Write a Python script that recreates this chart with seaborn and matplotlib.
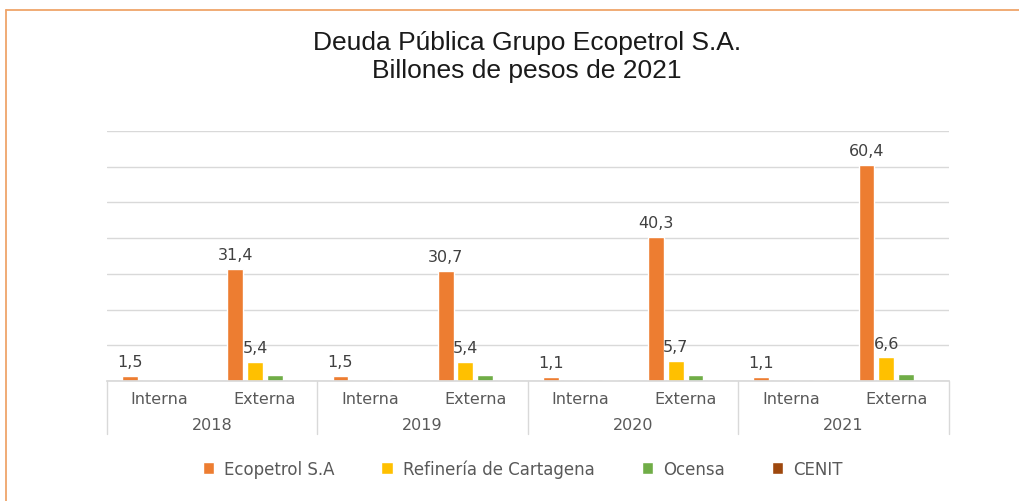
import pandas as pd
import matplotlib.pyplot as plt
from matplotlib.lines import Line2D
import seaborn as sns

# Datos (billones de pesos de 2021)
anios = ["2018", "2019", "2020", "2021"]
tipos = ["Interna", "Externa"]
empresas = ["Ecopetrol S.A", "Refinería de Cartagena", "Ocensa", "CENIT"]
ecopetrol = [1.5, 31.4, 1.5, 30.7, 1.1, 40.3, 1.1, 60.4]
refineria = [0, 5.4, 0, 5.4, 0, 5.7, 0, 6.6]
ocensa = [0, 1.6, 0, 1.6, 0, 1.6, 0, 1.9]
cenit = [0, 0, 0.3, 0, 0.3, 0, 0.3, 0]
colores = ["#ED7D31", "#FFC000", "#70AD47", "#9E480E"]


def main():
    categorias = [f"{a} {t}" for a in anios for t in tipos]
    filas = []
    for serie, valores in zip(empresas, [ecopetrol, refineria, ocensa, cenit]):
        for cat, v in zip(categorias, valores):
            filas.append({"categoria": cat, "empresa": serie, "valor": v})
    df = pd.DataFrame(filas)

    sns.set_theme(style="white")
    plt.rcParams["font.family"] = ["DejaVu Sans"]

    fig = plt.figure(figsize=(10.19, 5.02), dpi=100)
    ax = fig.add_axes([0.105, 0.239, 0.826, 0.498])

    sns.barplot(data=df, x="categoria", y="valor", hue="empresa", order=categorias,
                hue_order=empresas, palette=colores, width=0.75, gap=0.2,
                saturation=1, ax=ax, legend=True)

    ax.set_ylim(0, 70)
    ax.set_yticks(range(0, 71, 10))
    ax.set_yticklabels([])
    ax.tick_params(axis="y", length=0)
    ax.yaxis.grid(True, color="#D9D9D9", linewidth=1)
    ax.set_axisbelow(True)
    ax.set_xlim(-0.5, len(categorias) - 0.5)
    for s in ["top", "right", "left"]:
        ax.spines[s].set_visible(False)
    ax.spines["bottom"].set_color("#D9D9D9")
    ax.set_xlabel("")
    ax.set_ylabel("")

    # Etiquetas de Interna / Externa
    ax.set_xticks(range(len(categorias)))
    ax.set_xticklabels(tipos * len(anios), fontsize=11.5, color="#595959")
    ax.tick_params(axis="x", length=0, pad=7)

    # Años y separadores
    for i, anio in enumerate(anios):
        ax.text(2 * i + 0.5, -0.174, anio, transform=ax.get_xaxis_transform(),
                ha="center", va="center", fontsize=11.5, color="#595959")
    for x in [-0.5, 1.5, 3.5, 5.5, 7.5]:
        ax.plot([x, x], [0, -0.212], transform=ax.get_xaxis_transform(),
                color="#D9D9D9", linewidth=1, clip_on=False)

    # Etiquetas de datos
    def fmt(v):
        return f"{v:.1f}".replace(".", ",")

    ax.bar_label(ax.containers[0], labels=[fmt(v) for v in ecopetrol],
                 padding=5, fontsize=11.5, color="#404040")
    ax.bar_label(ax.containers[1], labels=[fmt(v) if v > 0 else "" for v in refineria],
                 padding=5, fontsize=11.5, color="#404040")

    handles, labels = ax.get_legend_handles_labels()
    ax.get_legend().remove()
    leg = fig.legend(handles, labels, loc="center", bbox_to_anchor=(0.513, 0.064),
                     ncol=4, frameon=False, fontsize=12, handlelength=0.7,
                     handleheight=0.7, handletextpad=0.6, columnspacing=2.8)
    for t in leg.get_texts():
        t.set_color("#595959")

    fig.text(0.517, 0.886, "Deuda Pública Grupo Ecopetrol S.A.\nBillones de pesos de 2021",
             ha="center", va="center", fontsize=19, color="#1a1a1a", linespacing=1.2,
             family=["Liberation Sans", "DejaVu Sans"])

    # Marco parcial
    fig.add_artist(Line2D([0.006, 0.006], [0, 0.978], color="#EFA56A", linewidth=1.3))
    fig.add_artist(Line2D([0.006, 1.0], [0.978, 0.978], color="#EFA56A", linewidth=1.3))

    fig.savefig("out.png", dpi=100, facecolor="white")


if __name__ == "__main__":
    main()
